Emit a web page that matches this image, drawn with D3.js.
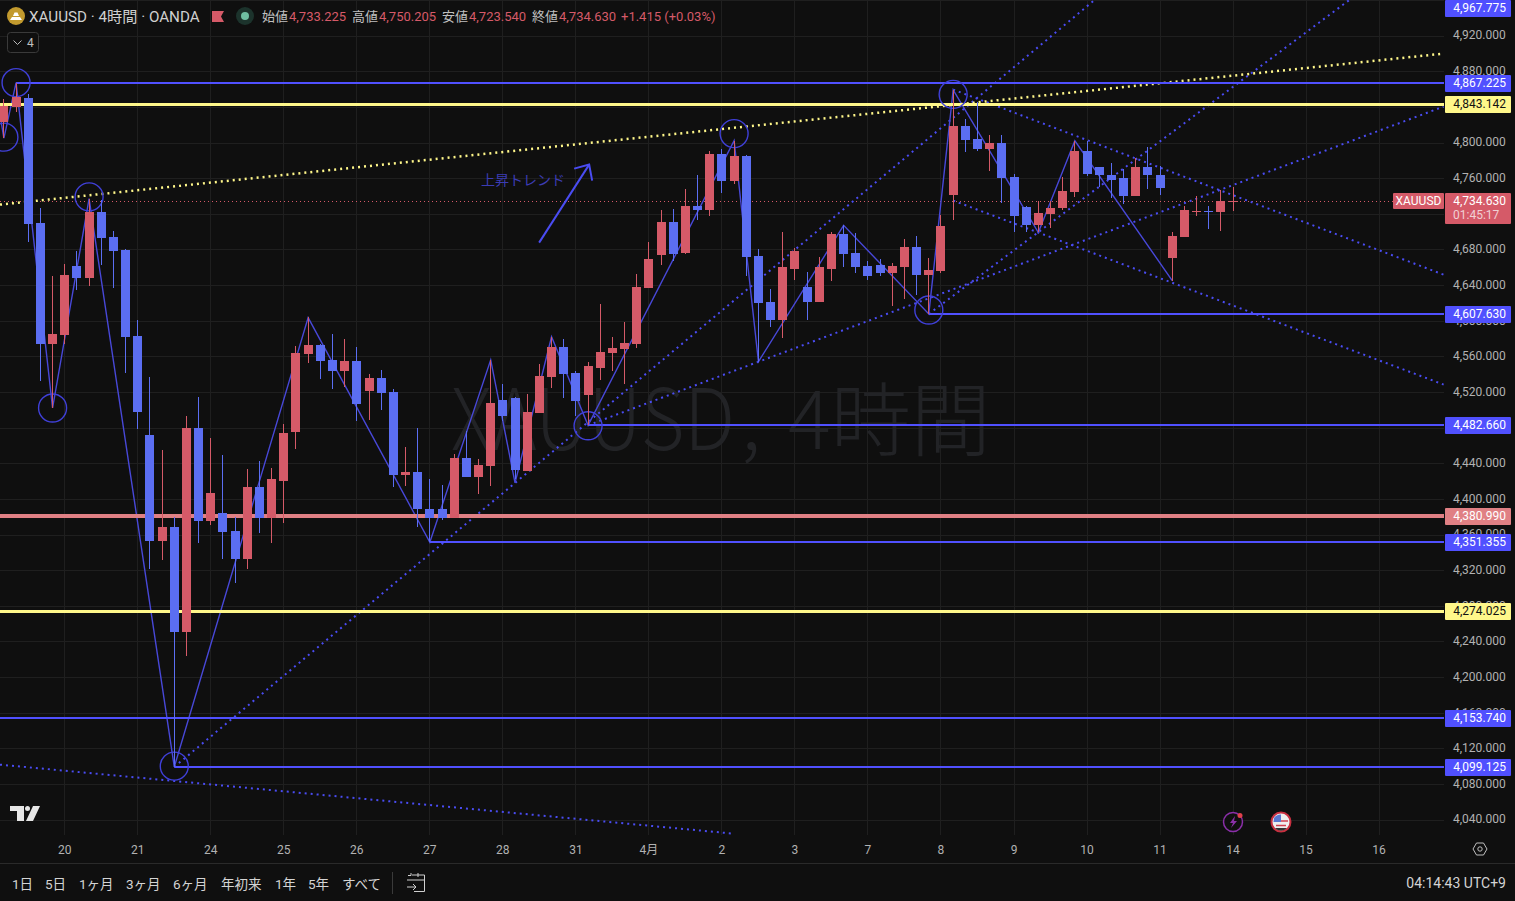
<!DOCTYPE html>
<html><head><meta charset="utf-8">
<style>
html,body{margin:0;padding:0;background:#0f0f0f;overflow:hidden}
svg{display:block}
text{font-family:Roboto,"Noto Sans CJK JP",sans-serif}
</style>
<script src="https://cdn.jsdelivr.net/npm/d3@7/dist/d3.min.js"></script>
</head><body><svg id="c" width="1515" height="901"></svg>
<script>
// candles (index 0 .. 101)
const opens=[4823.5,4840,4850,4710,4574,4584,4661,4648,4722,4694,4679,4583,4472,4353,4368,4251,4479,4375,4384,4364,4333,4413,4378,4420,4475,4563,4573,4556,4543,4555,4521,4536,4520,4427,4430,4389,4389,4378,4446,4424,4437,4511,4513,4431,4496,4537,4570,4541,4517,4547,4564,4568,4574,4637,4674,4711,4676,4729,4724,4787,4757,4785,4673,4621,4601,4658,4638,4621,4658,4697,4676,4661,4662,4654,4660,4683,4651,4656,4741,4818,4804,4793,4800,4761,4728,4707,4720,4726,4745,4790,4773,4764,4760,4740,4772,4764,4670,4694,4722.5,4723.5,4722,4733.225];
const highs=[4849,4867.225,4855,4727,4650,4664,4678,4737,4736,4701,4680,4601,4537,4455,4380,4493,4514,4468,4449,4380,4434,4443,4435,4484,4572,4604,4574,4585,4580,4570,4540,4545,4523,4458,4480,4422,4416,4450,4476,4445,4556,4529,4514,4518,4551,4582,4579,4543,4554,4619,4582,4598,4652,4688,4724,4725,4748,4763,4791,4793,4802,4786,4681,4636,4700,4682,4655,4672,4699,4707,4698,4667,4669,4665,4692,4695,4670,4719,4859,4826,4845,4808,4808,4765,4729,4734,4734,4761,4802,4802,4773,4777,4770,4783,4795,4774,4699,4729,4740,4729,4747,4750.205];
const lows=[4805,4834,4688,4532,4502,4574,4635,4639,4662,4637,4541,4478,4321,4331,4099.125,4224,4351,4371,4332,4306,4321,4362,4351,4373,4456,4553,4534,4523,4526,4487,4489,4500,4413,4415,4368,4351.355,4376,4378,4424,4405,4414,4487,4422,4431,4496,4524,4513,4493,4482.66,4533,4544,4529,4569,4637,4663,4667,4675,4713,4717,4743,4753,4650,4554,4593,4581,4646,4601,4621,4644,4660,4653,4646,4650,4617,4624,4629,4607.63,4654,4713,4789,4791,4768,4732,4700,4699,4699,4704,4724,4739,4762,4750,4738,4731,4740,4748,4741,4645,4694,4717,4703,4701,4723.54];
const closes=[4841,4851,4709,4574,4585,4651,4648,4722,4693,4678,4582,4497,4353,4368,4251,4479,4375,4407,4363,4333,4413,4378,4422,4474,4564,4573,4555,4543,4555,4506,4536,4519,4427,4430,4389,4378,4378,4446,4424,4438,4508,4493,4432,4497,4538,4570,4540,4510,4549,4565,4569,4575,4638,4669,4711,4675,4729,4724,4787,4757,4785,4672,4620,4601,4660,4678,4621,4660,4697,4675,4660,4650,4654,4661,4683,4651,4657,4706,4818,4803,4793,4800,4760,4718,4707,4721,4727,4746,4790,4765,4763,4758,4740,4772,4763,4749,4695,4724,4723.5,4722.5,4734,4734.63];

// axes
const priceTicks=[4040,4080,4120,4160,4200,4240,4280,4320,4360,4400,4440,4480,4520,4560,4600,4640,4680,4720,4760,4800,4840,4880,4920,4960];
const hiddenPriceLabels=[4480,4720,4840,4960];
const dayIndex=[5,11,17,23,29,35,41,47,53,59,65,71,77,83,89,95,101,107,113];
const dayLabels=["20","21","24","25","26","27","28","31","4月","2","3","7","8","9","10","11","14","15","16"];

// horizontal lines: price, start index (null = whole width), kind
const levelPrices=[4867.225,4843.142,4607.63,4482.66,4380.99,4351.355,4274.025,4153.74,4099.125];
const levelStarts=[1,null,76,48,null,35,null,null,14];
const levelKinds=["blue","yellow","blue","blue","salmon","blue","yellow","blue","blue"];
const extraLabelPrice=4967.775;
const lastPrice=4734.63;

// zigzag
const zigIndex=[-1,0,1,4,7,14,25,35,40,42,45,48,60,62,69,76,78,85,88,96];
const zigPrice=[4886,4805,4867.225,4502,4737,4099.125,4603.5,4351.355,4556,4418,4582,4482.66,4802,4554,4707,4607.63,4859,4699,4802,4645];

// circles
const circleIndex=[1,0,7,4,14,48,60,78,76];
const circlePrice=[4867.2,4806,4739,4502,4100,4482,4810,4854,4612];

// dotted trend lines [i0,p0,i1,p1]
const trendBlue=[
 [14,4099.125,89.66,4960.4],
 [48,4482.66,118.3,4840.3],
 [76,4607.63,110.6,4960.4],
 [78,4859.4,118.3,4651.7],
 [78,4734.8,118.3,4528.3],
 [-0.32,4101.7,59.9,4024.3]
];
const trendYellow=[[-0.32,4730.3,118.3,4899.8]];

// annotation
const arrowFrom=[43.98,4687.6], arrowTo=[48.09,4775.2];
const annotation={i:39.2,p:4758.4,text:"上昇トレンド"};

const rangeLabels=["1日","5日","1ヶ月","3ヶ月","6ヶ月","年初来","1年","5年","すべて"];
const rangeX=[12,45,79,126,173,221,275,308,342];

const ohlcLabels=["始値","高値","安値","終値"];
const ohlcValues=["4,733.225","4,750.205","4,723.540","4,734.630"];

const BG="#0f0f0f",GRID="#1f1f1f",UP="#d55a68",DOWN="#5b6ef2",DRAW="#4a4cf2",LBLUE="#5050ff",YEL="#fff78a",SAL="#e08084",TXT="#b2b2b2";
const W=1444,H=835;
const x=d3.scaleLinear().domain([5,101]).range([64.75,1233.07]);
const y=d3.scaleLinear().domain([4040,4920]).range([819.6,35.6]);
const fmt=d3.format(",.3f");
const svg=d3.select("#c");
svg.append("rect").attr("width",1515).attr("height",901).attr("fill",BG);
const defs=svg.append("defs");
defs.append("clipPath").attr("id","plot").append("rect").attr("width",W).attr("height",H);
const plot=svg.append("g").attr("clip-path","url(#plot)");

// grid
const gy=plot.append("g");
gy.selectAll("line").data(priceTicks).join("line").attr("x1",0).attr("x2",W)
 .attr("y1",d=>Math.round(y(d))+.5).attr("y2",d=>Math.round(y(d))+.5).attr("stroke",GRID);
const gx=plot.append("g");
gx.selectAll("line").data(dayIndex).join("line").attr("y1",0).attr("y2",H)
 .attr("x1",d=>Math.floor(x(d))+.5).attr("x2",d=>Math.floor(x(d))+.5).attr("stroke",GRID);

// watermark
const wmFont='"Noto Sans CJK JP",sans-serif';
plot.append("text").attr("x",451).attr("y",450).attr("font-size",85).attr("font-weight",300).attr("fill","#222326")
 .style("font-family",wmFont).attr("textLength",284).attr("lengthAdjust","spacingAndGlyphs").text("XAUUSD");
plot.append("text").attr("x",741).attr("y",450).attr("font-size",80).attr("font-weight",300).attr("fill","#222326")
 .style("font-family",wmFont).text(",");
plot.append("text").attr("x",788).attr("y",449).attr("font-size",80).attr("font-weight",300).attr("fill","#222326")
 .style("font-family",wmFont).text("4時間");

// last price line
plot.append("line").attr("x1",0).attr("x2",1393).attr("y1",Math.round(y(lastPrice))+.5).attr("y2",Math.round(y(lastPrice))+.5)
 .attr("stroke",UP).attr("stroke-dasharray","1 3");

// dotted trendlines
const tl=(arr,col,w)=>plot.append("g").selectAll("line").data(arr).join("line")
 .attr("x1",d=>x(d[0])).attr("y1",d=>y(d[1])).attr("x2",d=>x(d[2])).attr("y2",d=>y(d[3]))
 .attr("stroke",col).attr("stroke-width",w).attr("stroke-dasharray","2 4");
tl(trendBlue,DRAW,2);
tl(trendYellow,YEL,2.5);

// zigzag
plot.append("path").attr("fill","none").attr("stroke","#4848d8").attr("stroke-width",1.4)
 .attr("d",d3.line().x((d,i)=>x(zigIndex[i])).y(d=>y(d))(zigPrice));

// levels
const levelStyle={blue:[LBLUE,2],yellow:[YEL,3],salmon:[SAL,4]};
const snap=(p,w)=>w%2?Math.round(y(p))+.5:Math.round(y(p));
levelPrices.forEach((p,i)=>{
  const s=levelStyle[levelKinds[i]];
  plot.append("line").attr("x1",levelStarts[i]==null?0:x(levelStarts[i])).attr("x2",W)
   .attr("y1",snap(p,s[1])).attr("y2",snap(p,s[1])).attr("stroke",s[0]).attr("stroke-width",s[1]);
});

// circles
plot.append("g").selectAll("circle").data(circlePrice).join("circle")
 .attr("cx",(d,i)=>x(circleIndex[i])).attr("cy",d=>y(d)).attr("r",14)
 .attr("fill","none").attr("stroke","#4040d8").attr("stroke-width",1.4);

// arrow + text
const ax0=x(arrowFrom[0]),ay0=y(arrowFrom[1]),ax1=x(arrowTo[0]),ay1=y(arrowTo[1]);
plot.append("line").attr("x1",ax0).attr("y1",ay0).attr("x2",ax1).attr("y2",ay1).attr("stroke",DRAW).attr("stroke-width",2);
plot.append("path").attr("fill","none").attr("stroke",DRAW).attr("stroke-width",2)
 .attr("d",`M${ax1-15},${ay1+4}L${ax1},${ay1}L${ax1+3},${ay1+16}`);
plot.append("text").attr("x",x(annotation.i)).attr("y",y(annotation.p)+5).attr("font-size",14).attr("fill","#3c3cb4").text(annotation.text);

// candles
const idx=d3.range(opens.length);
const cg=plot.append("g").attr("shape-rendering","crispEdges");
const col=i=>closes[i]>=opens[i]?UP:DOWN;
cg.selectAll(".w").data(idx).join("rect").attr("class","w")
 .attr("x",i=>Math.floor(x(i))).attr("width",1)
 .attr("y",i=>y(highs[i])).attr("height",i=>y(lows[i])-y(highs[i])).attr("fill",col);
cg.selectAll(".b").data(idx).join("rect").attr("class","b")
 .attr("x",i=>Math.floor(x(i))-4).attr("width",9)
 .attr("y",i=>y(Math.max(opens[i],closes[i])))
 .attr("height",i=>Math.max(1.5,Math.abs(y(opens[i])-y(closes[i])))).attr("fill",col);

// TV logo
const logo=svg.append("g").attr("fill","#e6e6e6");
logo.append("path").attr("d","M10,806H24V821H17V811H10Z");
logo.append("circle").attr("cx",27.5).attr("cy",808.5).attr("r",2.5);
logo.append("path").attr("d","M33,806H40L33,821H26Z");

// Y axis
const yAxis=d3.axisRight(y).tickValues(priceTicks.filter(d=>!hiddenPriceLabels.includes(d))).tickFormat(fmt).tickSize(0).tickPadding(0).offset(0);
const ga=svg.append("g").attr("transform",`translate(${W+9},0)`).call(yAxis);
ga.select(".domain").remove();
ga.selectAll("text").attr("font-size",12).attr("fill",TXT);

// X axis
const xAxis=d3.axisBottom(x).tickValues(dayIndex).tickFormat((d,i)=>dayLabels[i]).tickSize(0).tickPadding(0).offset(0);
const gb=svg.append("g").attr("transform","translate(0,845)").call(xAxis);
gb.select(".domain").remove();
gb.selectAll("text").attr("font-size",12).attr("fill",TXT);

// price labels
function label(py,bg,fg,txt){
  const yy=Math.max(8,Math.round(y(py)));
  svg.append("rect").attr("x",1445).attr("y",yy-8).attr("width",66).attr("height",17).attr("rx",1).attr("fill",bg);
  svg.append("text").attr("x",1506).attr("y",yy+4).attr("text-anchor","end").attr("font-size",12).attr("fill",fg).text(txt);
}
label(extraLabelPrice,LBLUE,"#fff",fmt(extraLabelPrice));
levelPrices.forEach((p,i)=>{
  const k=levelKinds[i];
  label(p,k==="blue"?LBLUE:k==="yellow"?YEL:SAL,k==="yellow"?"#111":"#fff",fmt(p));
});
// last price
const ly=Math.round(y(lastPrice));
svg.append("rect").attr("x",1445).attr("y",ly-8).attr("width",66).attr("height",31).attr("rx",1).attr("fill",UP);
svg.append("text").attr("x",1506).attr("y",ly+4).attr("text-anchor","end").attr("font-size",12).attr("fill","#fff").text(fmt(lastPrice));
svg.append("text").attr("x",1453).attr("y",ly+18).attr("font-size",12).attr("fill","#f0d0d4").text("01:45:17");
svg.append("rect").attr("x",1393).attr("y",ly-8).attr("width",51).attr("height",16).attr("rx",1).attr("fill",UP);
svg.append("text").attr("x",1418.5).attr("y",ly+4).attr("text-anchor","middle").attr("font-size",12).attr("fill","#fff").text("XAUUSD");

// header
svg.append("circle").attr("cx",16).attr("cy",16).attr("r",9).attr("fill","#c29a2e");
svg.append("path").attr("d","M10,20H22L20,17H12ZM13,16H19L17.5,12.5H14.5Z").attr("fill","#fff");
svg.append("text").attr("x",29).attr("y",22).attr("font-size",15.2).attr("fill","#d0d0d0").text("XAUUSD · 4時間 · OANDA");
svg.append("path").attr("d","M212,11H224L221,16.5L224,22H212Z").attr("fill",UP);
svg.append("circle").attr("cx",245).attr("cy",16).attr("r",9).attr("fill","#1c332c");
svg.append("circle").attr("cx",245).attr("cy",16).attr("r",4).attr("fill","#6fbfa2");
const hx=[262,352,442,532];
ohlcLabels.forEach((t,i)=>{
  svg.append("text").attr("x",hx[i]).attr("y",21).attr("font-size",13).attr("fill","#c0c0c0").text(t);
  svg.append("text").attr("x",hx[i]+27).attr("y",21).attr("font-size",13).attr("fill",UP).text(ohlcValues[i]);
});
svg.append("text").attr("x",621).attr("y",21).attr("font-size",13).attr("fill",UP).text("+1.415 (+0.03%)");
svg.append("rect").attr("x",7.5).attr("y",32.5).attr("width",31).attr("height",20).attr("rx",3).attr("fill",BG).attr("stroke","#3a3a3a");
svg.append("path").attr("d","M13.5,40.5L17.5,44.5L21.5,40.5").attr("fill","none").attr("stroke","#bbb");
svg.append("text").attr("x",27).attr("y",47).attr("font-size",12).attr("fill","#c0c0c0").text("4");

// event icons
svg.append("circle").attr("cx",1233).attr("cy",822).attr("r",9.5).attr("fill",BG).attr("stroke","#8a2fa8").attr("stroke-width",1.5);
svg.append("path").attr("d","M1235,816L1230,823H1233L1231,828L1237,821H1234Z").attr("fill","#8a2fa8");
svg.append("circle").attr("cx",1240).attr("cy",815.5).attr("r",2.5).attr("fill","#e0404c");
svg.append("circle").attr("cx",1281).attr("cy",822).attr("r",9.5).attr("fill","#eee").attr("stroke","#c83040").attr("stroke-width",2);
svg.append("path").attr("d","M1276,825.5H1286M1274,821H1288").attr("stroke","#d04050").attr("stroke-width",1.6);
svg.append("path").attr("d","M1274,818A8,8 0 0 1 1281,814.5V822H1273.5Z").attr("fill","#5a78d0");
svg.append("path").attr("d","M1275,828A8,8 0 0 0 1287,828Z").attr("fill","#333");

// settings icon
svg.append("path").attr("d","M1473,849L1476.5,843H1483.5L1487,849L1483.5,855H1476.5Z").attr("fill","none").attr("stroke","#c0c0c0");
svg.append("circle").attr("cx",1480).attr("cy",849).attr("r",2.2).attr("fill","none").attr("stroke","#c0c0c0");

// toolbar
svg.append("line").attr("x1",0).attr("x2",1515).attr("y1",863.5).attr("y2",863.5).attr("stroke","#2a2a2a");
svg.selectAll(".rng").data(rangeLabels).join("text").attr("class","rng").attr("x",(d,i)=>rangeX[i]).attr("y",889)
 .attr("font-size",13.5).attr("fill","#d4d4d4").text(d=>d);
svg.append("line").attr("x1",392.5).attr("x2",392.5).attr("y1",872).attr("y2",894).attr("stroke","#3a3a3a");
svg.append("path").attr("d","M412,875H424.5V891.5H414M408,875.5H411V873M418,873V877M407,880H425M407,887H416M413,884L416,887L413,890")
 .attr("fill","none").attr("stroke","#d0d0d0");
svg.append("text").attr("x",1506).attr("y",888).attr("text-anchor","end").attr("font-size",14).attr("fill","#d4d4d4").text("04:14:43 UTC+9");
</script></body></html>
